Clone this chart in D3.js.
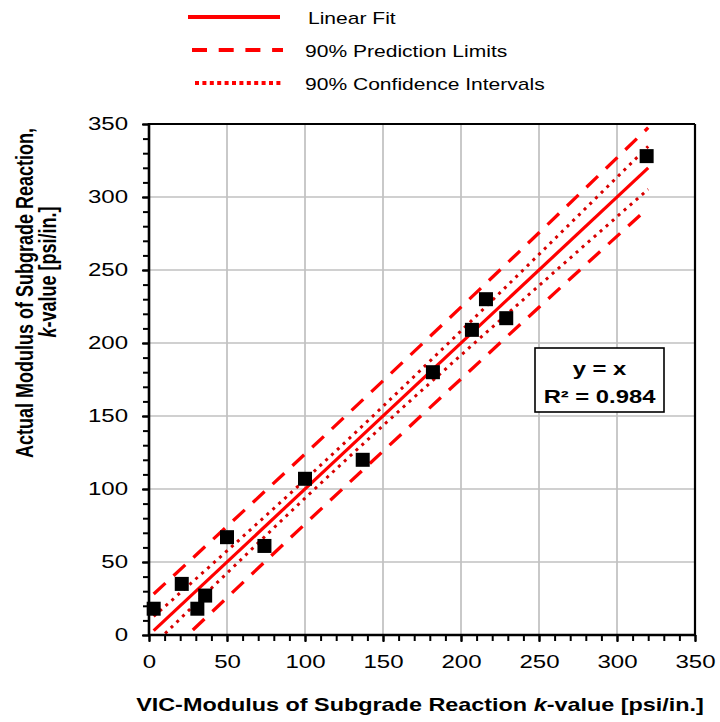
<!DOCTYPE html>
<html><head><meta charset="utf-8">
<script src="https://cdn.jsdelivr.net/npm/d3@7/dist/d3.min.js"></script>
<style>
html,body{margin:0;padding:0;background:#fff;}
text{font-family:"Liberation Sans",Arial,Helvetica,sans-serif;}
</style></head>
<body><svg id="c" width="720" height="722"></svg>
<script>
// ---- data ----
const vicK = [3, 21, 31, 36, 50, 74, 100, 137, 182, 207, 216, 229, 319];
const actualK = [18, 35, 18, 27, 67, 61, 107, 120, 180, 209, 230, 217, 328];
const fitX = [3, 320];                       // linear fit y = x over data range
const bandX = [3, 50, 100, 150, 200, 250, 320];
const confHalf = [9.7, 7.6, 6.3, 6.6, 8.3, 10.7, 14.7];   // 90% confidence half-width
const predHalf = [25.1, 24.4, 24.0, 24.1, 24.6, 25.5, 27.5]; // 90% prediction half-width
const majorTicks = [0, 50, 100, 150, 200, 250, 300, 350];
const legendLabels = ["Linear Fit", "90% Prediction Limits", "90% Confidence Intervals"];
const axisTitleX = "VIC-Modulus of Subgrade Reaction ";
const axisTitleY1 = "Actual Modulus of Subgrade Reaction,";
const eqLines = ["y = x", "R² = 0.984"];

const SX = 1.3; // horizontal text stretch seen in the picture
const svg = d3.select("#c");
const L = 149, R = 695, T = 124, B = 635;
const x = d3.scaleLinear().domain([0, 350]).range([L, R]);
const y = d3.scaleLinear().domain([0, 350]).range([B, T]);
const minor = d3.range(0, 351, 10);

// grid
const g = svg.append("g");
g.selectAll("line.gx").data(majorTicks.slice(1)).join("line")
  .attr("x1", d => x(d)).attr("x2", d => x(d)).attr("y1", T).attr("y2", B)
  .attr("stroke", "#c0c0c0").attr("stroke-width", 1.7);
g.selectAll("line.gy").data(majorTicks.slice(1)).join("line")
  .attr("x1", L).attr("x2", R).attr("y1", d => y(d)).attr("y2", d => y(d))
  .attr("stroke", "#c0c0c0").attr("stroke-width", 1.7);

// clip
svg.append("clipPath").attr("id", "pa").append("rect")
  .attr("x", L).attr("y", T).attr("width", R - L).attr("height", B - T);
const lines = svg.append("g").attr("clip-path", "url(#pa)");

const bandLine = (sign, half) => d3.line().curve(d3.curveMonotoneX)
  .x((d, i) => x(d)).y((d, i) => y(d + sign * half[i]));

lines.append("path").datum(bandX).attr("d", bandLine(1, predHalf))
  .attr("fill", "none").attr("stroke", "#ff0000").attr("stroke-width", 3.3).attr("stroke-dasharray", "16,11");
lines.append("path").datum(bandX).attr("d", bandLine(-1, predHalf))
  .attr("fill", "none").attr("stroke", "#ff0000").attr("stroke-width", 3.3).attr("stroke-dasharray", "16,11");
lines.append("path").datum(bandX).attr("d", bandLine(1, confHalf))
  .attr("fill", "none").attr("stroke", "#d80000").attr("stroke-width", 3).attr("stroke-dasharray", "3,5");
lines.append("path").datum(bandX).attr("d", bandLine(-1, confHalf))
  .attr("fill", "none").attr("stroke", "#d80000").attr("stroke-width", 3).attr("stroke-dasharray", "3,5");
lines.append("path").datum(fitX).attr("d", d3.line().x(d => x(d)).y(d => y(d)))
  .attr("fill", "none").attr("stroke", "#ff0000").attr("stroke-width", 3.2);

// markers
const S = 14;
svg.append("g").selectAll("rect").data(vicK).join("rect")
  .attr("x", d => x(d) - S / 2).attr("y", (d, i) => y(actualK[i]) - S / 2)
  .attr("width", S).attr("height", S).attr("fill", "#000");

// axes
const axB = svg.append("g").attr("transform", `translate(0,${B})`)
  .call(d3.axisBottom(x).tickValues(majorTicks).tickSize(7).tickPadding(13).tickFormat(d3.format("d")));
const axBm = svg.append("g").attr("transform", `translate(0,${B})`)
  .call(d3.axisBottom(x).tickValues(minor).tickSize(6).tickFormat(""));
const axL = svg.append("g").attr("transform", `translate(${L},0)`)
  .call(d3.axisLeft(y).tickValues(majorTicks).tickSize(7).tickPadding(14).tickFormat(d3.format("d")));
const axLm = svg.append("g").attr("transform", `translate(${L},0)`)
  .call(d3.axisLeft(y).tickValues(minor).tickSize(6).tickFormat(""));
[axB, axBm, axL, axLm].forEach(a => {
  a.select(".domain").remove();
  a.selectAll(".tick line").attr("stroke", "#000").attr("stroke-width", 2);
});
axB.selectAll(".tick text").attr("font-size", 18.5).attr("fill", "#000")
  .attr("transform", `scale(${SX},1)`);
axL.selectAll(".tick text").attr("font-size", 18.5).attr("fill", "#000")
  .attr("x", -21 / SX).attr("dy", "0.3em").attr("transform", `scale(${SX},1)`);

// frame
svg.append("line").attr("x1", L).attr("x2", R).attr("y1", T).attr("y2", T).attr("stroke", "#000").attr("stroke-width", 2.2);
svg.append("line").attr("x1", R).attr("x2", R).attr("y1", T).attr("y2", B).attr("stroke", "#000").attr("stroke-width", 2.2);
svg.append("line").attr("x1", L).attr("x2", L).attr("y1", T - 1).attr("y2", B + 1).attr("stroke", "#000").attr("stroke-width", 2.6);
svg.append("line").attr("x1", L - 1).attr("x2", R + 1).attr("y1", B).attr("y2", B).attr("stroke", "#000").attr("stroke-width", 2.6);

// equation box
svg.append("rect").attr("x", 535).attr("y", 348).attr("width", 129).attr("height", 64)
  .attr("fill", "#fff").attr("stroke", "#000").attr("stroke-width", 1.6);
eqLines.forEach((t, i) => {
  svg.append("text").attr("transform", `translate(599.5,${[375, 403][i]}) scale(${SX},1)`)
    .attr("text-anchor", "middle").attr("font-size", 18.3).attr("font-weight", "bold").text(t);
});

// axis titles
const xt = svg.append("text").attr("transform", `translate(420,711) scale(${SX},1)`)
  .attr("text-anchor", "middle").attr("font-size", 18).attr("font-weight", "bold");
xt.append("tspan").text(axisTitleX);
xt.append("tspan").attr("font-style", "italic").text("k");
xt.append("tspan").text("-value [psi/in.]");

svg.append("text").attr("transform", `translate(33,293) scale(${SX},1) rotate(-90)`)
  .attr("text-anchor", "middle").attr("font-size", 18).attr("font-weight", "bold").text(axisTitleY1);
const yt2 = svg.append("text").attr("transform", `translate(56,272) scale(${SX},1) rotate(-90)`)
  .attr("text-anchor", "middle").attr("font-size", 18).attr("font-weight", "bold");
yt2.append("tspan").attr("font-style", "italic").text("k");
yt2.append("tspan").text("-value [psi/in.]");

// legend
const legY = [17, 50, 83];
const legStyles = [
  {x1: 188, x2: 280, dash: null, color: "#ff0000"},
  {x1: 192, x2: 283, dash: "15,11.7", color: "#ff0000"},
  {x1: 195, x2: 283, dash: "4,3.4", color: "#ff0000"}
];
legendLabels.forEach((lab, i) => {
  const st = legStyles[i];
  const ln = svg.append("line").attr("x1", st.x1).attr("x2", st.x2)
    .attr("y1", legY[i]).attr("y2", legY[i]).attr("stroke", st.color).attr("stroke-width", 4);
  if (st.dash) ln.attr("stroke-dasharray", st.dash);
  svg.append("text").attr("transform", `translate(${i === 0 ? 308 : 305},${legY[i] + 6.5}) scale(${SX},1)`)
    .attr("font-size", 16.2).attr("fill", "#000").text(lab);
});
</script></body></html>
